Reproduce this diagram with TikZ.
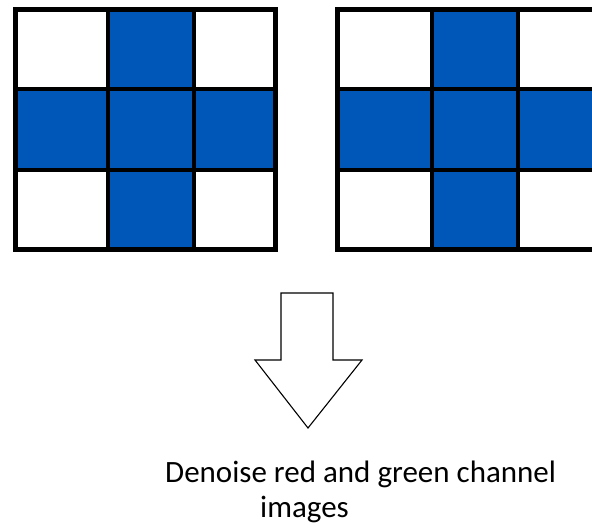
\documentclass[tikz,border=0pt]{standalone}
\usepackage{fontspec}
\setmainfont{Carlito}
\definecolor{cellblue}{RGB}{0,87,184}
\tikzset{
  bluecell/.style={fill=cellblue},
  outerline/.style={line width=5pt},
  innerline/.style={line width=3.5pt},
  bigarrow/.style={draw=black,fill=white,line width=1.1pt,line join=miter},
  captiontext/.style={font=\fontsize{31}{36}\selectfont,inner sep=0pt,anchor=base west}
}
\begin{document}
\begin{tikzpicture}[x=1pt,y=-1pt]
\useasboundingbox (0,0) rectangle (592,531);
\fill[white] (0,0) rectangle (592,531);
\begin{scope}
\clip (0,0) rectangle (592,531);
% left grid
\fill[bluecell] (108,9.5) rectangle (194,89);
\fill[bluecell] (15.5,89) rectangle (275.5,170);
\fill[bluecell] (108,170) rectangle (194,249.5);
\draw[innerline] (108,9.5) -- (108,249.5) (194,9.5) -- (194,249.5)
  (15.5,89) -- (275.5,89) (15.5,170) -- (275.5,170);
\draw[outerline] (15.5,9.5) rectangle (275.5,249.5);
% right grid
\fill[bluecell] (432,9.5) rectangle (518,89);
\fill[bluecell] (337.5,89) rectangle (604,170);
\fill[bluecell] (432,170) rectangle (518,249.5);
\draw[innerline] (432,9.5) -- (432,249.5) (518,9.5) -- (518,249.5)
  (337.5,89) -- (604,89) (337.5,170) -- (604,170);
\draw[outerline] (337.5,9.5) rectangle (604,249.5);
\end{scope}
% arrow
\draw[bigarrow] (281,293) -- (333,293) -- (333,360) -- (362,360) -- (308,428) -- (255,360) -- (281,360) -- cycle;
% caption
\node[captiontext] (cap1) at (165,482) {Denoise red and green channel};
\node[captiontext] (cap2) at (260,517) {images};
\end{tikzpicture}
\end{document}
